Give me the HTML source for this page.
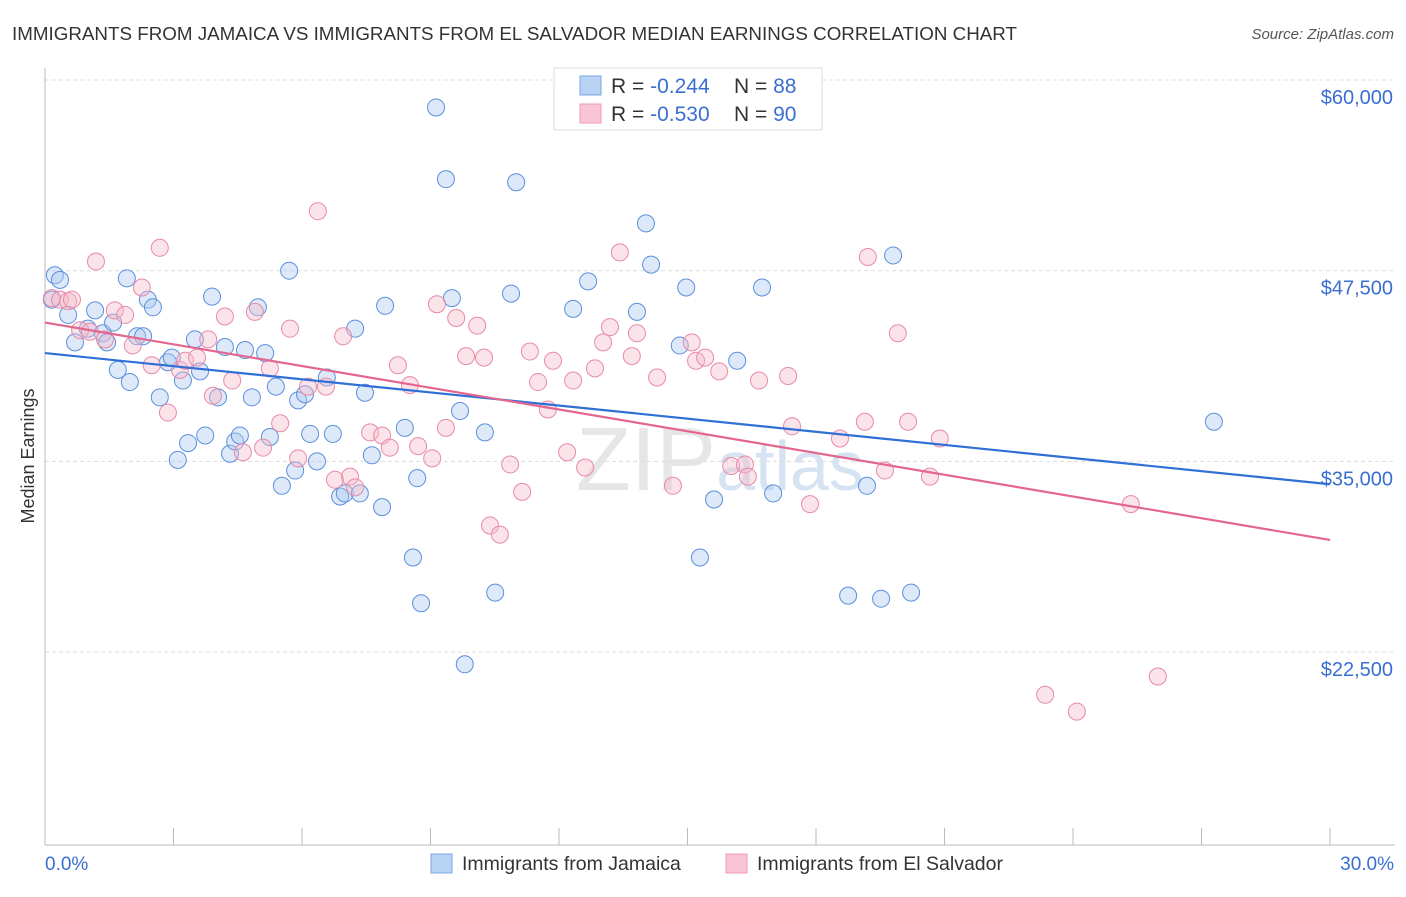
<!DOCTYPE html>
<html><head><meta charset="utf-8"><style>
body{margin:0;background:#fff;font-family:"Liberation Sans",sans-serif;}
svg text{font-family:"Liberation Sans",sans-serif;}
</style></head><body>
<svg id="chart" width="1406" height="892">
<text x="12" y="40" font-size="18" fill="#333" textLength="1005" lengthAdjust="spacingAndGlyphs">IMMIGRANTS FROM JAMAICA VS IMMIGRANTS FROM EL SALVADOR MEDIAN EARNINGS CORRELATION CHART</text>
<text x="1394" y="39" font-size="15" fill="#555" font-style="italic" text-anchor="end">Source: ZipAtlas.com</text>
<text x="720" y="490" font-size="90" fill="#e6e6e6" text-anchor="middle" font-family="Liberation Serif">ZIP<tspan fill="#d5e3f2" font-family="Liberation Sans" font-size="70">atlas</tspan></text>
<g id="grid"></g>
<g id="marks"></g>
<text transform="translate(34,456) rotate(-90)" font-size="18" fill="#333" text-anchor="middle">Median Earnings</text>
<text x="45" y="870" font-size="19" fill="#3a6fd1">0.0%</text>
<text x="1394" y="870" font-size="19" fill="#3a6fd1" text-anchor="end">30.0%</text>
<g>
<rect x="554" y="68" width="268" height="62" fill="#fff" stroke="#ddd"/>
<rect x="580" y="76" width="21" height="19" fill="#b9d3f5" stroke="#7aa6e3"/>
<rect x="580" y="104" width="21" height="19" fill="#f9c5d5" stroke="#ee9ab4"/>
<text x="611" y="93" font-size="21" fill="#333">R = <tspan fill="#3a6fd1">-0.244</tspan><tspan x="734">N = </tspan><tspan fill="#3a6fd1">88</tspan></text>
<text x="611" y="121" font-size="21" fill="#333">R = <tspan fill="#3a6fd1">-0.530</tspan><tspan x="734">N = </tspan><tspan fill="#3a6fd1">90</tspan></text>
</g>
<g>
<rect x="431" y="854" width="21" height="19" fill="#b9d3f5" stroke="#7aa6e3"/>
<text x="462" y="870" font-size="19.5" fill="#333">Immigrants from Jamaica</text>
<rect x="726" y="854" width="21" height="19" fill="#f9c5d5" stroke="#ee9ab4"/>
<text x="757" y="870" font-size="19.5" fill="#333">Immigrants from El Salvador</text>
</g>
</svg>
<script>
const yTicks=[60000,47500,35000,22500];
const yTickLabels=["$60,000","$47,500","$35,000","$22,500"];
const xTicks=[0,3,6,9,12,15,18,21,24,27,30];
const jamX=[0.23,0.35,0.16,0.54,0.70,1.00,1.17,1.35,1.45,1.59,1.70,1.91,1.98,2.15,2.29,2.40,2.52,2.68,2.87,2.96,3.10,3.22,3.34,3.50,3.62,3.74,3.90,4.04,4.20,4.32,4.44,4.55,4.67,4.83,4.97,5.14,5.25,5.39,5.53,5.70,5.84,5.91,6.07,6.19,6.35,6.58,6.72,6.89,7.00,7.24,7.35,7.47,7.63,7.87,7.94,8.40,8.59,8.69,8.78,9.13,9.36,9.50,9.69,9.80,10.27,10.51,10.88,11.00,12.33,12.68,13.82,14.03,14.15,14.82,14.97,15.29,15.62,16.16,16.74,17.00,18.75,19.19,19.52,19.80,20.22,27.29];
const jamY=[47200,46900,45600,44600,42800,43700,44900,43400,42800,44100,41000,47000,40200,43200,43200,45600,45100,39200,41500,41800,35100,40300,36200,43000,40900,36700,45800,39200,42500,35500,36300,36700,42300,39200,45100,42100,36600,39900,33400,47500,34400,39000,39400,36800,35000,40500,36800,32700,32900,43700,32900,39500,35400,32000,45200,37200,28700,33900,25700,58200,53500,45700,38300,21700,36900,26400,46000,53300,45000,46800,44800,50600,47900,42600,46400,28700,32500,41600,46400,32900,26200,33400,26000,48500,26400,37600];
const salX=[0.16,0.35,0.54,0.63,0.82,1.05,1.19,1.40,1.63,1.87,2.05,2.26,2.49,2.68,2.87,3.15,3.27,3.55,3.81,3.92,4.20,4.37,4.62,4.90,5.09,5.25,5.49,5.72,5.91,6.14,6.37,6.56,6.77,6.96,7.12,7.24,7.59,7.87,8.05,8.24,8.52,8.71,9.04,9.15,9.36,9.60,9.83,10.09,10.25,10.39,10.62,10.86,11.14,11.32,11.51,11.74,11.86,12.19,12.33,12.61,12.84,13.03,13.19,13.42,13.70,13.82,14.29,14.66,15.10,15.20,15.41,15.74,16.02,16.34,16.41,16.67,17.35,17.44,17.86,18.56,19.14,19.21,19.61,19.91,20.15,20.66,20.89,23.35,24.09,25.35,25.98];
const salY=[45700,45600,45500,45600,43600,43500,48100,43000,44900,44600,42600,46400,41300,49000,38200,41000,41600,41800,43000,39300,44500,40300,35600,44800,35900,41100,37500,43700,35200,39900,51400,39900,33800,43200,34000,33300,36900,36700,35900,41300,40000,36000,35200,45300,37200,44400,41900,43900,41800,30800,30200,34800,33000,42200,40200,38400,41600,35600,40300,34600,41100,42800,43800,48700,41900,43400,40500,33400,42800,41600,41800,40900,34700,34800,34000,40300,40600,37300,32200,36500,37600,48400,34400,43400,37600,34000,36500,19700,18600,32200,20900];
const jamLine=[42100,33500];
const salLine=[44100,29850];

const NS="http://www.w3.org/2000/svg";
const xs=p=>45+p*(1285/30);
const ys=v=>80+(60000-v)/65.55;
const grid=document.getElementById('grid');
const marks=document.getElementById('marks');
function mk(tag,attrs,parent){const e=document.createElementNS(NS,tag);for(const k in attrs)e.setAttribute(k,attrs[k]);parent.appendChild(e);return e;}
yTicks.forEach((t,i)=>{
  const l=mk('line',{x1:45,x2:1395,y1:ys(t),y2:ys(t),stroke:'#ddd','stroke-dasharray':'4,3'},grid);
  
  
  const tx=mk('text',{x:1393,y:ys(t)+24,'font-size':20,fill:'#3a6fd1','text-anchor':'end'},grid);
  tx.textContent=yTickLabels[i];
  
  
});
xTicks.forEach(t=>{
  const l=mk('line',{x1:xs(t),x2:xs(t),y1:828,y2:845,stroke:'#bbb'},grid);
  
  
});
const ax=mk('line',{x1:45,x2:45,y1:68,y2:845,stroke:'#bbb'},grid);


const bx=mk('line',{x1:45,x2:1395,y1:845,y2:845,stroke:'#bbb'},grid);


function pts(X,Y,fill,stroke,name){
  X.forEach((x,i)=>{
    const c=mk('circle',{cx:xs(x),cy:ys(Y[i]),r:8.5,fill:fill,'fill-opacity':0.4,stroke:stroke,'stroke-width':1},marks);
    
    
  });
}
pts(jamX,jamY,'#a9c8f0','#5b8fdc','jamaica-point');
pts(salX,salY,'#f6b8cb','#e88aa8','el-salvador-point');
const l1=mk('line',{x1:xs(0),y1:ys(jamLine[0]),x2:xs(30),y2:ys(jamLine[1]),stroke:'#2f6fd6','stroke-width':2.2},marks);


const l2=mk('line',{x1:xs(0),y1:ys(salLine[0]),x2:xs(30),y2:ys(salLine[1]),stroke:'#e4668f','stroke-width':2.2},marks);


</script>
</body></html>
